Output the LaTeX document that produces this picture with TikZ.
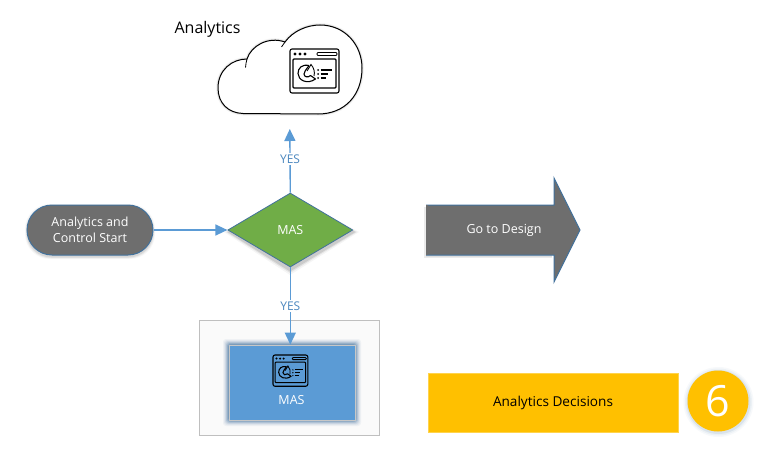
\documentclass[tikz,border=0pt]{standalone}
\usepackage{fontspec}
\setmainfont{Open Sans}
\usetikzlibrary{shapes.geometric,arrows.meta}
\definecolor{flowblue}{HTML}{5B9BD5}
\definecolor{edgeblue}{HTML}{41719C}
\definecolor{yesblue}{HTML}{4A86BE}
\definecolor{darkgrey}{HTML}{6E6E6E}
\definecolor{leaf}{HTML}{70AD47}
\definecolor{amber}{HTML}{FFC000}
\tikzset{
  x=1pt,y=-1pt,
  lbl/.style={font=\fontsize{12.5}{16}\selectfont,text=white,align=center,inner sep=0pt},
  flow/.style={draw=flowblue,line width=1.4pt,-{Triangle[length=12pt,width=11pt,fill=flowblue]}},
  yes/.style={font=\fontsize{12}{14}\selectfont,text=yesblue,fill=white,inner sep=1.5pt},
  pics/appicon/.style={code={
    \draw[line width=#1,rounded corners=2pt,black] (0,0) rectangle (49,44);
    \draw[line width=#1,rounded corners=1pt,black] (3,10) rectangle (46,39);
    \foreach \q in {5,10,15}{\fill[black] (\q,5) circle (1.6pt);}
    \draw[line width=#1*0.8,rounded corners=1pt,black] (27,3.5) rectangle (47,6.5);
    \draw[line width=#1,black,line join=round] (19,16.5) .. controls (12,15) and (8,19) .. (8,24.5)
       .. controls (8,31) and (17,36) .. (25.5,30) -- (20.5,26.5) .. controls (18,29) and (14,28) .. (14,25)
       .. controls (14,22.5) and (16,21) .. (19,16.5);
    \draw[line width=#1*0.8,black] (17,22) .. controls (19,19) and (20,17) .. (21,15.5)
       .. controls (24,19) and (25,23) .. (24,27);
    \foreach \q/\e in {21/42,25/38,29/36}{
      \fill[black] (28,\q) circle (1pt);
      \draw[line width=#1,black] (30.5,\q) -- (\e,\q);}
  }}
}
\begin{document}
\begin{tikzpicture}
\useasboundingbox (0,0) rectangle (771,455);
\fill[white] (0,0) rectangle (771,455);

% Cloud
\foreach \w/\o in {4/0.04,2.5/0.07}{
  \draw[black,line width=\w pt,opacity=\o] (243,113.5) .. controls (228,113) and (218,103) .. (218,88)
    .. controls (218,70) and (232,59) .. (247,59) .. controls (251,46) and (268,36) .. (285,42)
    .. controls (293,31) and (307,25) .. (320,25) .. controls (345,25) and (362,45) .. (362,68)
    .. controls (362,95) and (345,114) .. (318,114) -- cycle;
}
\draw[black,line width=1pt,fill=white] (243,113.5) .. controls (228,113) and (218,103) .. (218,88)
    .. controls (218,70) and (232,59) .. (247,59) .. controls (251,46) and (268,36) .. (285,42)
    .. controls (293,31) and (307,25) .. (320,25) .. controls (345,25) and (362,45) .. (362,68)
    .. controls (362,95) and (345,114) .. (318,114) -- cycle;
\draw[black,line width=0.8pt] (247,59) .. controls (246,62) and (246,64) .. (245.5,67.5);
\draw[black,line width=0.8pt] (285,42) .. controls (284,44) and (283,45) .. (281.5,47);
\pic[transform shape] at (290,49) {appicon=1.1pt};
\node[font=\fontsize{16}{19}\selectfont,text=black,inner sep=0pt,anchor=center] (title) at (207.5,29) {Analytics};

% MAS container
\draw[draw=black!25,fill=black!2,line width=0.8pt] (199,320) rectangle (379,435);
\foreach \g/\o in {6/0.06,5/0.08,4/0.12,3/0.18,2/0.25,1/0.3}{
  \fill[edgeblue,opacity=\o,rounded corners=3pt] (229-\g,345-\g) rectangle (355+\g,420+\g);
}
\node[draw=black!22,fill=flowblue,line width=0.8pt,minimum width=126pt,minimum height=75pt,inner sep=0pt] (masbox) at (292,382.5) {};
\begin{scope}[shift={(273,355)},xscale=0.71,yscale=0.71]
\pic[transform shape] {appicon=1.05pt};
\end{scope}
\node[lbl] (maslabel) at (291.5,400) {MAS};

% Start pill shadow
\foreach \w/\o in {4/0.03,2.5/0.05,1/0.08}{
  \fill[black,opacity=\o,rounded corners=25pt] (27-\w*0.5,206-\w*0.5) rectangle (153+\w*0.5,257+\w*0.5);
}
\node[draw=edgeblue,fill=darkgrey,line width=1pt,minimum width=126pt,minimum height=50pt,rounded corners=25pt,inner sep=0pt,lbl,text=white] (start) at (90,230) {Analytics and\\Control Start};

% Diamond shadow
\foreach \w/\o in {5/0.04,3/0.07,1.5/0.1}{
  \fill[black,opacity=\o] (227-\w+2,232) -- (290,195-\w*0.4+2) -- (354+\w,232) -- (290,270+\w) -- cycle;
}
\node[diamond,aspect=1.69,draw=edgeblue,fill=leaf,line width=0.8pt,minimum width=125pt,minimum height=74pt,inner sep=0pt,lbl] (dec) at (290.3,230) {MAS};

% Connectors
\coordinate (topend) at (289.8,129);
\draw[flow] (start.east) -- (dec.west);
\draw[flow] (dec.north) -- (topend) node[yes,pos=0.53] (yestop) {YES};
\draw[flow] (dec.south) -- (masbox.north -| dec.south) node[yes,pos=0.5] (yesbot) {YES};

% Go to Design arrow
\fill[black,opacity=0.08] (424,207) -- (424,258) -- (552,258) -- (552,207) -- cycle;
\fill[black,opacity=0.06] (426,207) -- (426,257) -- (552,257) -- (552,207) -- cycle;
\draw[draw=edgeblue,fill=darkgrey,line width=1pt,line join=miter] (426,205) -- (554,205) -- (554,178) -- (580,230) -- (554,282) -- (554,255) -- (426,255);
\fill[darkgrey] (425.5,205) rectangle (428,255);
\node[lbl] (go) at (504,230) {Go to Design};

% Legend
\node[draw=amber!70!white,fill=amber,line width=0.8pt,minimum width=250pt,minimum height=59pt,inner sep=0pt,font=\fontsize{13.6}{16}\selectfont,text=black] (decisions) at (553,402.5) {Analytics Decisions};
\foreach \w/\o in {4/0.04,2.5/0.06,1/0.10}{
  \fill[edgeblue,opacity=\o] (718.5,402) circle ({31+\w});
}
\node[circle,fill=amber,minimum size=61pt,inner sep=0pt,font=\fontsize{43}{46}\selectfont,text=white] (six) at (718,401) {6};
\end{tikzpicture}
\end{document}
